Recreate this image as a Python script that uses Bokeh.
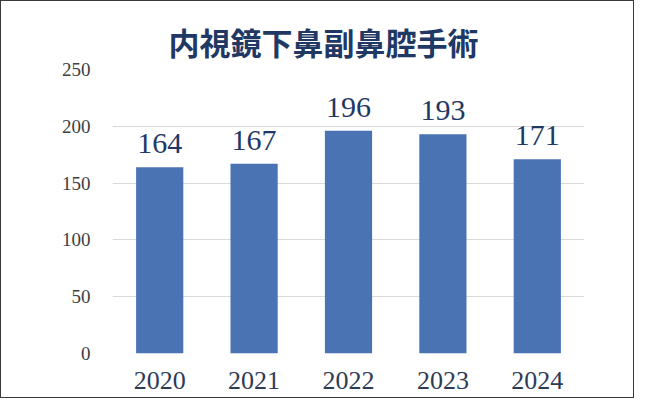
from bokeh.plotting import figure
from bokeh.models import ColumnDataSource, FixedTicker
from bokeh.core.properties import value
from bokeh.embed import file_html
from bokeh.resources import INLINE

years = ["2020", "2021", "2022", "2023", "2024"]
counts = [164, 167, 196, 193, 171]
y_ticks = [0, 50, 100, 150, 200, 250]
title_text = "内視鏡下鼻副鼻腔手術"

src = ColumnDataSource(dict(x=years, y=counts, lab=[str(c) for c in counts]))

p = figure(x_range=years, y_range=(0, 250), width=632, height=396,
           output_backend="svg", toolbar_location=None,
           min_border_left=111, min_border_right=51, min_border_top=68, min_border_bottom=46)
p.x_range.range_padding = 0
p.styles = {"border": "1.5px solid #3a3a3a", "box-sizing": "content-box"}

p.title.text = title_text
p.title.text_font = "Noto Sans CJK JP"
p.title.text_font_size = "31px"
p.title.text_font_style = "bold"
p.title.text_color = "#1f3864"
p.title.align = "left"
p.title.offset = 56
p.title.vertical_align = "middle"

p.vbar(x="x", top="y", width=0.5, source=src, fill_color="#4a73b3", line_color=None)
p.text(x="x", y="y", text="lab", source=src, text_align="center", text_baseline="bottom",
       y_offset=-14, text_font=value("Liberation Serif"), text_font_size="30px",
       text_color="#1f3864")

p.outline_line_color = None
p.xgrid.grid_line_color = None
p.ygrid.grid_line_color = "#d9d9d9"
p.yaxis.ticker = FixedTicker(ticks=y_ticks)
for ax in (p.xaxis, p.yaxis):
    ax.axis_line_color = None
    ax.major_tick_line_color = None
    ax.minor_tick_line_color = None
    ax.major_label_text_font = "Liberation Serif"
p.yaxis.major_label_text_font_size = "19px"
p.yaxis.major_label_text_color = "#404040"
p.yaxis.major_label_standoff = 16
p.xaxis.major_label_text_font_size = "26px"
p.xaxis.major_label_text_color = "#2e3b55"
p.xaxis.major_label_standoff = 12

open("out.html", "w").write(file_html(p, INLINE))
